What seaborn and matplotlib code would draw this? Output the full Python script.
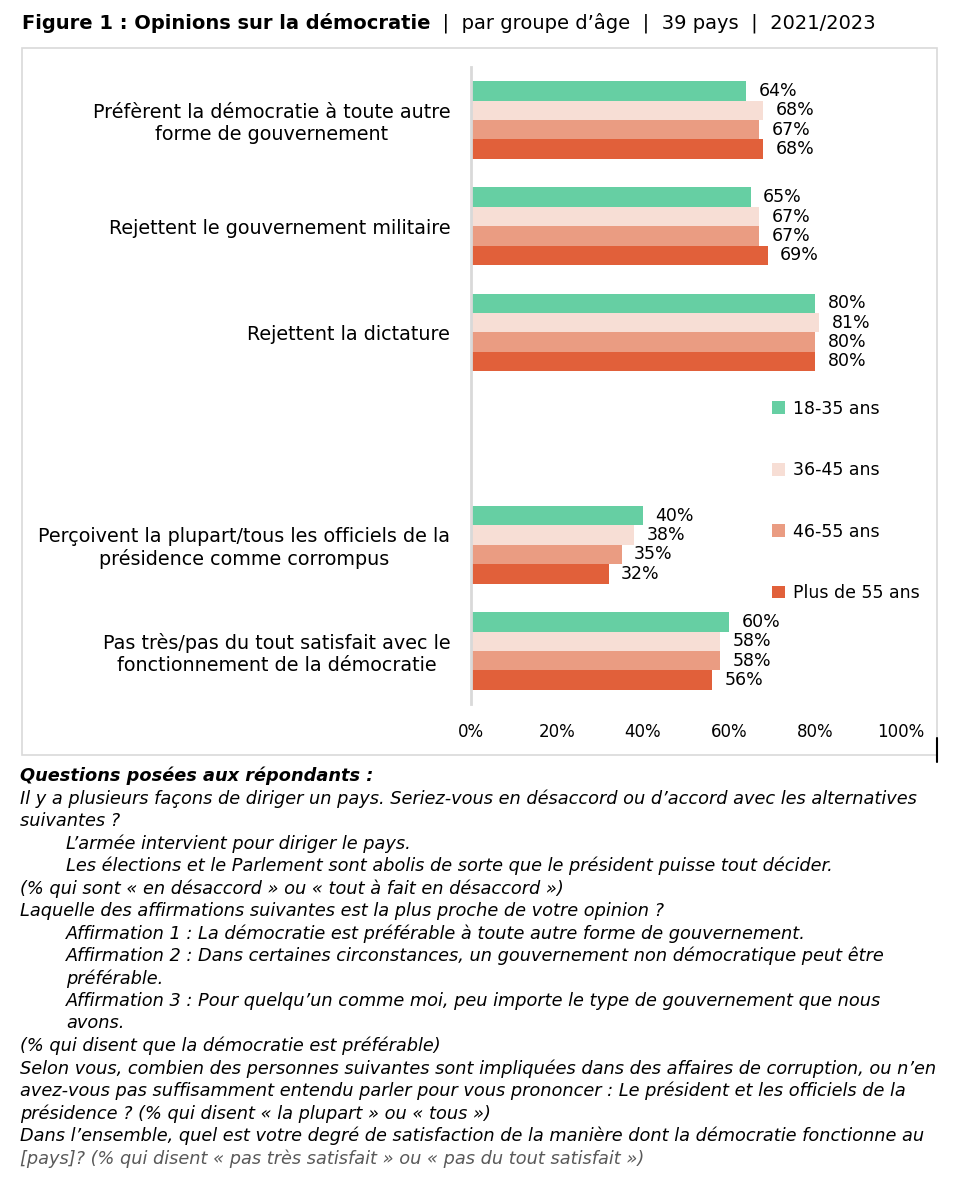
import pandas as pd
import matplotlib.pyplot as plt
import matplotlib.patches as mpatches
import matplotlib.lines as mlines
import seaborn as sns

# Donnees du graphique
categories = [
    "Préfèrent la démocratie à toute autre\nforme de gouvernement",
    "Rejettent le gouvernement militaire",
    "Rejettent la dictature",
    "Perçoivent la plupart/tous les officiels de la\nprésidence comme corrompus",
    "Pas très/pas du tout satisfait avec le\nfonctionnement de la démocratie",
]
ordre = categories[:3] + [" "] + categories[3:]
groupes = ["18-35 ans", "36-45 ans", "46-55 ans", "Plus de 55 ans"]
v_18_35 = [64, 65, 80, 40, 60]
v_36_45 = [68, 67, 81, 38, 58]
v_46_55 = [67, 67, 80, 35, 58]
v_55_plus = [68, 69, 80, 32, 56]
couleurs = ["#66CFA3", "#F7DED5", "#EA9C82", "#E1603A"]
ticks = [0, 20, 40, 60, 80, 100]

rows = []
for g, vals in zip(groupes, [v_18_35, v_36_45, v_46_55, v_55_plus]):
    for c, v in zip(categories, vals):
        rows.append({"cat": c, "groupe": g, "val": v})
df = pd.DataFrame(rows)

sns.set_style("white")
plt.rcParams["font.family"] = ["DejaVu Sans"]
plt.rcParams["text.color"] = "black"
plt.rcParams["xtick.color"] = "black"
plt.rcParams["ytick.color"] = "black"

fig = plt.figure(figsize=(9.63, 11.92), dpi=100)
W, H = 963, 1192
ax = fig.add_axes([471 / W, 1 - 704 / H, 430 / W, 637 / H])

sns.barplot(data=df, y="cat", x="val", hue="groupe", order=ordre,
            hue_order=groupes, palette=couleurs, orient="h", width=0.73,
            saturation=1, linewidth=0, ax=ax)

for cont in ax.containers:
    ax.bar_label(cont, fmt="{:.0f}%", padding=9, fontsize=12.5, color="black")

ax.set_xlim(0, 100)
ax.set_xticks(ticks)
ax.set_xticklabels([f"{t}%" for t in ticks], fontsize=12)
ax.tick_params(axis="x", length=0, pad=14)
ax.tick_params(axis="y", length=0, pad=15, labelsize=13.8)
for lbl in ax.get_yticklabels():
    lbl.set_multialignment("center")
ax.set_xlabel("")
ax.set_ylabel("")
for s in ["top", "right", "bottom"]:
    ax.spines[s].set_visible(False)
ax.spines["left"].set_color("#D9D9D9")
ax.spines["left"].set_linewidth(2)

handles, labels = ax.get_legend_handles_labels()
ax.get_legend().remove()
fig.legend(handles, labels, loc="center left",
           bbox_to_anchor=(772 / W, 1 - 501 / H), frameon=False,
           fontsize=12.5, labelspacing=2.5, handlelength=0.75,
           handleheight=0.75, handletextpad=0.45, borderpad=0, borderaxespad=0)

# cadre gris autour du graphique
fig.patches.append(mpatches.Rectangle((22 / W, 1 - 755 / H), 915 / W, 707 / H,
                                      transform=fig.transFigure, fill=False,
                                      edgecolor="#D9D9D9", linewidth=1.2))
fig.lines.append(mlines.Line2D([937 / W, 937 / W], [1 - 738 / H, 1 - 762 / H],
                               transform=fig.transFigure, color="black", lw=1.5))

# titre
t1 = fig.text(22 / W, 1 - 23 / H, "Figure 1 : Opinions sur la démocratie",
              fontsize=14, fontweight="bold", va="center")
ax.annotate("  |  par groupe d’âge  |  39 pays  |  2021/2023",
            xy=(1, 0.5), xycoords=t1, va="center", ha="left", fontsize=14,
            annotation_clip=False)

# notes
notes = [
    ("Questions posées aux répondants :", 0, True),
    ("Il y a plusieurs façons de diriger un pays. Seriez-vous en désaccord ou d’accord avec les alternatives", 0, False),
    ("suivantes ?", 0, False),
    ("L’armée intervient pour diriger le pays.", 1, False),
    ("Les élections et le Parlement sont abolis de sorte que le président puisse tout décider.", 1, False),
    ("(% qui sont « en désaccord » ou « tout à fait en désaccord »)", 0, False),
    ("Laquelle des affirmations suivantes est la plus proche de votre opinion ?", 0, False),
    ("Affirmation 1 : La démocratie est préférable à toute autre forme de gouvernement.", 1, False),
    ("Affirmation 2 : Dans certaines circonstances, un gouvernement non démocratique peut être", 1, False),
    ("préférable.", 1, False),
    ("Affirmation 3 : Pour quelqu’un comme moi, peu importe le type de gouvernement que nous", 1, False),
    ("avons.", 1, False),
    ("(% qui disent que la démocratie est préférable)", 0, False),
    ("Selon vous, combien des personnes suivantes sont impliquées dans des affaires de corruption, ou n’en", 0, False),
    ("avez-vous pas suffisamment entendu parler pour vous prononcer : Le président et les officiels de la", 0, False),
    ("présidence ? (% qui disent « la plupart » ou « tous »)", 0, False),
    ("Dans l’ensemble, quel est votre degré de satisfaction de la manière dont la démocratie fonctionne au", 0, False),
    ("[pays]? (% qui disent « pas très satisfait » ou « pas du tout satisfait »)", 0, False),
]
y0 = 776
for i, (txt, indent, gras) in enumerate(notes):
    x = 66 if indent else 20
    col = "#595959" if i == len(notes) - 1 else "black"
    fig.text(x / W, 1 - (y0 + i * 22.5) / H, txt, fontsize=12.8,
             style="italic", fontweight="bold" if gras else "normal",
             va="center", ha="left", color=col)

fig.savefig("out.png", dpi=100)
